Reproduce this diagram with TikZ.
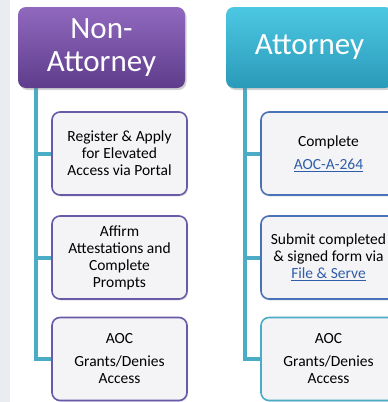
\documentclass[tikz,border=0pt]{standalone}
\usepackage{fontspec}
\setmainfont{Carlito}
\usetikzlibrary{shadows}

\definecolor{purpletop}{HTML}{9069BE}
\definecolor{purplebot}{HTML}{5F3C8C}
\definecolor{tealtop}{HTML}{4CC8E3}
\definecolor{tealbot}{HTML}{2A9AB9}
\definecolor{trunkcol}{HTML}{4BACC6}
\definecolor{purpleedge}{HTML}{6A58A8}
\definecolor{blueedge}{HTML}{4A72B8}
\definecolor{boxfill}{HTML}{F4F4F7}
\definecolor{linkblue}{HTML}{2F5EA8}
\definecolor{stripcol}{HTML}{E9ECF1}

\tikzset{
  header/.style={rounded corners=8pt, minimum width=167pt, minimum height=81pt,
    text=white, align=center, font=\fontsize{31}{33}\selectfont,
    drop shadow={opacity=0.35, shadow xshift=1.5pt, shadow yshift=-2pt}},
  stepbox/.style={draw, line width=1.6pt, rounded corners=8pt, fill=boxfill,
    minimum width=135pt, minimum height=83pt, align=center,
    font=\fontsize{15.5}{17}\selectfont,
    drop shadow={opacity=0.2, shadow xshift=1pt, shadow yshift=-1.5pt}},
  trunk/.style={draw=trunkcol, line width=4pt},
}
\newcommand{\linktext}[1]{\textcolor{linkblue}{\underline{#1}}}

\begin{document}
\begin{tikzpicture}[x=1pt, y=-1pt]
    % Fix the page
    \useasboundingbox (0,0) rectangle (388,402);
    \clip (0,0) rectangle (388,402);
    \fill[white] (0,0) rectangle (388,402);
    \fill[stripcol] (0,0) rectangle (10,402);

    % Draw the Non-Attorney column
    \coordinate (nl) at (36,0);
    \node[stepbox, draw=purpleedge] (n1) at (119.5,153.5) {Register \& Apply\\for Elevated\\Access via Portal};
    \node[stepbox, draw=purpleedge] (n2) at (119.5,257.5) {Affirm\\Attestations and\\Complete\\Prompts};
    \node[stepbox, draw=purpleedge] (n3) at (119.5,359) {AOC\\[6pt]Grants/Denies\\Access};
    \draw[trunk] (101.5,86 -| nl) -- (n3.west -| nl) -- (n3.west);
    \draw[trunk] (n1.west -| nl) -- (n1.west);
    \draw[trunk] (n2.west -| nl) -- (n2.west);
    \node[header, top color=purpletop, bottom color=purplebot] (nh) at (101.5,47.5) {Non-\\Attorney};

    % Draw the Attorney column
    \coordinate (al) at (245,0);
    \node[stepbox, draw=blueedge] (a1) at (328.5,153.5) {Complete\\[6pt]\linktext{AOC-A-264}};
    \node[stepbox, draw=blueedge] (a2) at (328.5,257.5) {Submit completed\\\&~signed form via\\\linktext{File \& Serve}};
    \node[stepbox, draw=trunkcol] (a3) at (328.5,359) {AOC\\[6pt]Grants/Denies\\Access};
    \draw[trunk] (309.5,86 -| al) -- (a3.west -| al) -- (a3.west);
    \draw[trunk] (a1.west -| al) -- (a1.west);
    \draw[trunk] (a2.west -| al) -- (a2.west);
    \node[header, top color=tealtop, bottom color=tealbot] (ah) at (309.5,47.5) {Attorney};
\end{tikzpicture}
\end{document}
